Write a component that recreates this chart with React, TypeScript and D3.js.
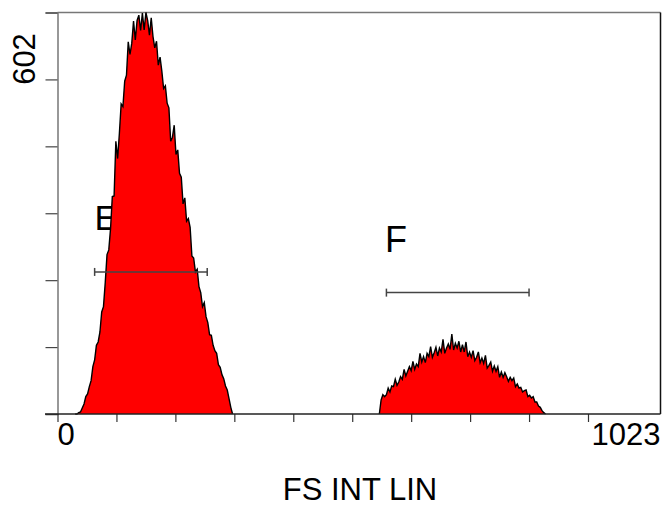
import React, { useEffect, useRef } from 'react';
import * as d3 from 'd3';

// histogram counts, one value every 3 channels
const CHANNEL_STEP = 3;
const peakEStart = 30;
const peakECounts = [
  0, 0, 2, 3, 9, 15, 26, 30, 41, 50, 71, 81, 103, 108, 123, 153, 161, 197, 239, 246,
  278, 326, 327, 409, 383, 421, 465, 461, 499, 508, 558, 539, 556, 589, 561, 590, 598, 575, 601, 576,
  602, 590, 568, 594, 566, 549, 559, 523, 535, 514, 488, 492, 466, 459, 409, 415, 433, 389, 396, 361,
  355, 315, 324, 289, 293, 280, 237, 234, 213, 217, 191, 182, 161, 167, 146, 137, 119, 118, 103, 95,
  91, 74, 70, 59, 53, 42, 36, 23, 10, 0,
];
const peakFStart = 546;
const peakFCounts = [
  0, 21, 29, 26, 29, 39, 33, 42, 41, 52, 43, 48, 56, 52, 67, 57, 64, 71, 65, 79,
  67, 75, 71, 91, 78, 86, 77, 91, 86, 101, 85, 92, 100, 87, 99, 93, 112, 91, 99, 105,
  97, 120, 96, 106, 99, 109, 93, 104, 93, 108, 86, 93, 85, 95, 80, 85, 93, 77, 84, 76,
  88, 69, 73, 78, 64, 72, 64, 71, 55, 63, 55, 62, 56, 49, 55, 50, 54, 41, 45, 39,
  40, 33, 35, 36, 26, 28, 24, 26, 18, 18, 12, 10, 5, 2, 0,
];

// gates: name, from channel, to channel, level in counts
const gateNames = ['E', 'F'];
const gateFrom = [63, 558];
const gateTo = [254, 800];
const gateLevel = [213, 182];

const xMax = 1023;
const yMax = 602;
const xTicks = [0, 100, 200, 300, 400, 500, 600, 700, 800, 900];
const yTickCount = 6;

const W = 665;
const H = 508;

const toPoints = (start: number, counts: number[]) =>
  counts.map((c, i) => ({ ch: start + i * CHANNEL_STEP, c }));

const App: React.FC = () => {
  const svgRef = useRef<SVGSVGElement>(null);

  useEffect(() => {
    if (!svgRef.current) return;
    const svg = d3.select(svgRef.current);
    svg.selectAll('*').remove();

    const x = d3.scaleLinear().domain([0, xMax]).range([57.5, 660.5]);
    const y = d3.scaleLinear().domain([0, yMax]).range([414, 12.5]);
    const font = '"Liberation Sans", Arial, sans-serif';

    // frame (top gray, right black)
    svg.append('line')
      .attr('x1', x(0)).attr('x2', x(xMax))
      .attr('y1', y(yMax)).attr('y2', y(yMax))
      .attr('stroke', '#777').attr('stroke-width', 1.5);
    svg.append('line')
      .attr('x1', x(xMax)).attr('x2', x(xMax))
      .attr('y1', y(yMax)).attr('y2', y(0))
      .attr('stroke', '#111').attr('stroke-width', 1.5);

    // gate labels sit under the histogram
    gateNames.forEach((name, i) => {
      svg.append('text')
        .attr('x', i === 0 ? 94.5 : 385)
        .attr('y', i === 0 ? 230 : 251.5)
        .style('font-family', font)
        .style('font-size', i === 0 ? '35px' : '36px')
        .attr('fill', '#000')
        .text(name);
    });

    // histogram
    const area = d3.area<{ ch: number; c: number }>()
      .x(d => x(d.ch))
      .y0(y(0))
      .y1(d => y(d.c));
    const line = d3.line<{ ch: number; c: number }>()
      .x(d => x(d.ch))
      .y(d => y(d.c));

    [toPoints(peakEStart, peakECounts), toPoints(peakFStart, peakFCounts)].forEach(pts => {
      svg.append('path').datum(pts).attr('d', area).attr('fill', '#ff0000');
      svg.append('path').datum(pts).attr('d', line)
        .attr('fill', 'none').attr('stroke', '#000').attr('stroke-width', 1.4)
        .attr('stroke-linejoin', 'miter');
    });

    // gates
    gateNames.forEach((_, i) => {
      const g = svg.append('g').attr('stroke', '#444').attr('stroke-width', 1.5);
      const gy = y(gateLevel[i]);
      g.append('line').attr('x1', x(gateFrom[i])).attr('x2', x(gateTo[i])).attr('y1', gy).attr('y2', gy);
      [gateFrom[i], gateTo[i]].forEach(ch => {
        g.append('line').attr('x1', x(ch)).attr('x2', x(ch)).attr('y1', gy - 4).attr('y2', gy + 4);
      });
    });

    // Y axis
    const yAxis = svg.append('g')
      .attr('transform', `translate(${x(0)},0)`)
      .call(d3.axisLeft(y).tickValues(d3.range(yTickCount + 1).map(i => (yMax * i) / yTickCount)).tickSize(12).tickFormat(() => ''));
    yAxis.select('.domain').attr('stroke', '#777').attr('stroke-width', 1.5);
    yAxis.selectAll('.tick line').attr('stroke', '#444').attr('stroke-width', 1.2);

    svg.append('text')
      .attr('transform', 'translate(35,59) rotate(-90)')
      .attr('text-anchor', 'middle')
      .style('font-family', font)
      .style('font-size', '31px')
      .text(String(yMax));

    // X axis
    const xAxis = svg.append('g')
      .attr('transform', `translate(0,${y(0)})`)
      .call(d3.axisBottom(x).tickValues(xTicks).tickSize(8).tickSizeOuter(0).tickFormat(() => ''));
    xAxis.select('.domain').remove();
    xAxis.selectAll('.tick line').attr('stroke', '#333').attr('stroke-width', 1.2);
    svg.append('line')
      .attr('x1', 45).attr('x2', x(xMax))
      .attr('y1', y(0)).attr('y2', y(0))
      .attr('stroke', '#222').attr('stroke-width', 1.5);

    svg.append('text')
      .attr('x', x(0)).attr('y', 445)
      .style('font-family', font).style('font-size', '31px')
      .text('0');
    svg.append('text')
      .attr('x', x(xMax)).attr('y', 445)
      .attr('text-anchor', 'end')
      .style('font-family', font).style('font-size', '31px')
      .text(String(xMax));

    svg.append('text')
      .attr('x', 360).attr('y', 500)
      .attr('text-anchor', 'middle')
      .style('font-family', font).style('font-size', '31px')
      .text('FS INT LIN');
  }, []);

  return (
    <svg
      ref={svgRef}
      width={W}
      height={H}
      style={{ position: 'absolute', left: 0, top: 0, background: '#fff', display: 'block' }}
    />
  );
};

export default App;
